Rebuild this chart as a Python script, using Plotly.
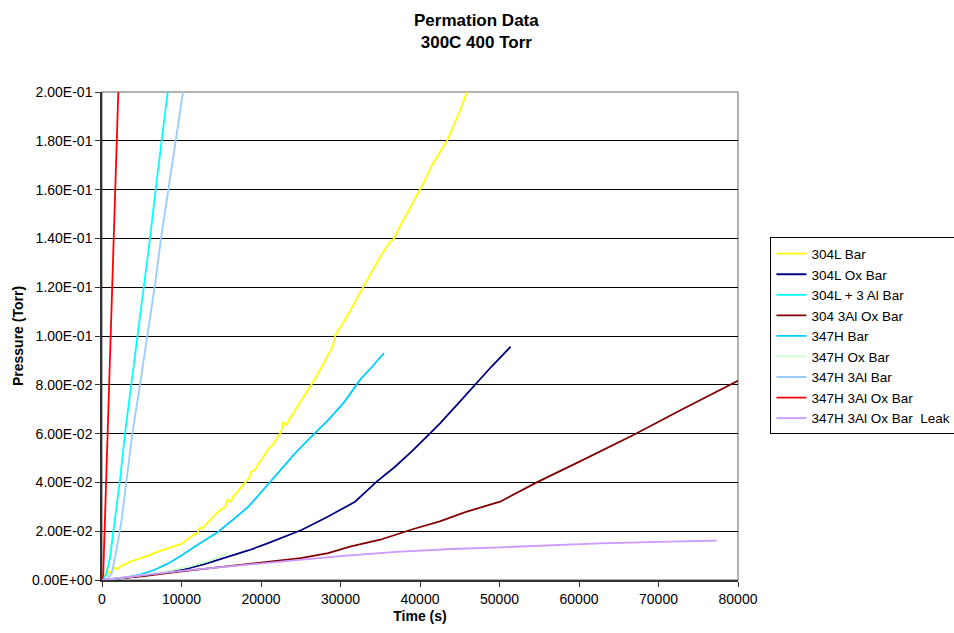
import plotly.graph_objects as go

# ---- data ----
t_304L = [0, 300, 600, 900, 1250, 1600, 2000, 2500, 3000, 3500, 4000, 4500, 5000, 5500, 6000, 6500,
          7000, 7500, 8000, 8500, 9000, 9500, 10000, 10500, 11000, 11500, 12000, 12300, 12600, 13000,
          13500, 14000, 14500, 15000, 15500, 15800, 16200, 16500, 17000, 17500, 18000, 18500, 18800,
          19200, 19600, 20000, 20500, 21000, 21500, 22000, 22500, 22800, 23200, 23600, 24000, 25000,
          26000, 27000, 28000, 29000, 29300, 30000, 31000, 32000, 33000, 34000, 35000, 36000, 36730,
          37500, 38500, 39500, 40500, 41500, 42500, 43400, 44000, 45000, 45900]
p_304L = [0.0005, 0.001, 0.004, 0.003, 0.0033, 0.005, 0.0045, 0.006, 0.0065, 0.0075, 0.008, 0.0085,
          0.0092, 0.0098, 0.0102, 0.011, 0.0115, 0.0123, 0.0128, 0.0133, 0.0135, 0.0143, 0.0148, 0.016,
          0.0172, 0.0185, 0.019, 0.0215, 0.021, 0.0225, 0.024, 0.026, 0.0275, 0.029, 0.0298, 0.033, 0.032,
          0.034, 0.036, 0.038, 0.040, 0.0418, 0.0445, 0.045, 0.047, 0.049, 0.0515, 0.054, 0.0555, 0.058,
          0.0605, 0.0645, 0.0635, 0.066, 0.068, 0.073, 0.078, 0.0835, 0.0895, 0.0955, 0.100, 0.1035,
          0.109, 0.115, 0.121, 0.127, 0.1325, 0.1375, 0.140, 0.145, 0.151, 0.157, 0.163, 0.170, 0.175,
          0.180, 0.1845, 0.192, 0.200]

t_304L_ox = [0, 2000, 4150, 7000, 10000, 13000, 15900, 18500, 20900, 23000, 25100, 28450, 31830,
             33200, 34550, 36860, 39000, 41260, 42520, 44700, 46930, 49000, 51400]
p_304L_ox = [0, 0.0006, 0.0014, 0.0026, 0.0041, 0.0066, 0.0096, 0.0122, 0.0151, 0.0178, 0.0205,
             0.026, 0.0321, 0.0362, 0.0403, 0.0464, 0.0528, 0.0601, 0.0642, 0.072, 0.080, 0.0875, 0.0956]

t_304L_3al = [0, 500, 1000, 1600, 2300, 2890, 3690, 4490, 5320, 6040, 6750, 7510, 8260]
p_304L_3al = [0, 0.002, 0.009, 0.024, 0.042, 0.060, 0.080, 0.100, 0.123, 0.140, 0.160, 0.180, 0.200]

t_304_3al_ox = [0, 5000, 10000, 15000, 20000, 25000, 28450, 31200, 35000, 39160, 42500, 45870,
                50070, 54680, 60000, 66840, 73000, 79840, 80500]
p_304_3al_ox = [0, 0.0015, 0.0035, 0.0053, 0.0072, 0.009, 0.011, 0.0137, 0.0165, 0.0209, 0.024,
                0.028, 0.0321, 0.040, 0.0484, 0.0594, 0.070, 0.0813, 0.0825]

t_347H = [0, 2000, 4570, 6500, 8340, 10000, 11700, 13200, 14630, 16500, 18400, 19900, 21350, 22800,
          24280, 25650, 27000, 28470, 30500, 32450, 34000, 35470]
p_347H = [0, 0.0006, 0.002, 0.004, 0.0068, 0.010, 0.0137, 0.0167, 0.0198, 0.0248, 0.030, 0.0355,
          0.041, 0.0465, 0.0519, 0.0565, 0.0608, 0.0656, 0.073, 0.082, 0.0875, 0.093]

t_347H_ox = [0, 4000, 8000, 11000, 13500, 15890]
p_347H_ox = [0, 0.0015, 0.0035, 0.0055, 0.0078, 0.0112]

t_347H_3al = [0, 700, 1220, 1800, 2470, 3100, 3810, 4780, 5700, 6750, 7420, 8340, 9270, 10190]
p_347H_3al = [0, 0.0005, 0.0027, 0.012, 0.0246, 0.042, 0.060, 0.080, 0.100, 0.123, 0.140, 0.160,
              0.180, 0.200]

t_347H_3al_ox = [0, 150, 400, 715, 920, 1130, 1340, 2050]
p_347H_3al_ox = [0, 0.002, 0.028, 0.060, 0.080, 0.100, 0.123, 0.200]

t_leak = [0, 5000, 10000, 15000, 20090, 24900, 30000, 37000, 44000, 50070, 56000, 62640, 70000, 77320]
p_leak = [0, 0.0019, 0.0037, 0.0053, 0.0068, 0.0085, 0.0098, 0.0115, 0.0127, 0.0134, 0.0142, 0.015,
          0.0156, 0.0161]

y_tickvals = [0.00, 0.02, 0.04, 0.06, 0.08, 0.10, 0.12, 0.14, 0.16, 0.18, 0.20]
y_ticktext = ["0.00E+00", "2.00E-02", "4.00E-02", "6.00E-02", "8.00E-02", "1.00E-01",
              "1.20E-01", "1.40E-01", "1.60E-01", "1.80E-01", "2.00E-01"]
x_tickvals = [0, 10000, 20000, 30000, 40000, 50000, 60000, 70000, 80000]

series = [
    ("304L Bar", t_304L, p_304L, "#FFFF00"),
    ("304L Ox Bar", t_304L_ox, p_304L_ox, "#000080"),
    ("304L + 3 Al Bar", t_304L_3al, p_304L_3al, "#00FFFF"),
    ("304 3Al Ox Bar", t_304_3al_ox, p_304_3al_ox, "#800000"),
    ("347H Bar", t_347H, p_347H, "#00CCFF"),
    ("347H Ox Bar", t_347H_ox, p_347H_ox, "#CCFFCC"),
    ("347H 3Al Bar", t_347H_3al, p_347H_3al, "#99CCFF"),
    ("347H 3Al Ox Bar", t_347H_3al_ox, p_347H_3al_ox, "#FF0000"),
    ("347H 3Al Ox Bar  Leak", t_leak, p_leak, "#CC99FF"),
]

FONT = "Liberation Sans, Arial, sans-serif"

fig = go.Figure()
for i, (name, x, y, c) in enumerate(series):
    fig.add_trace(go.Scatter(x=x, y=y, mode="lines", name=name, legendgroup=f"g{i}",
                             line=dict(color=c, width=1.8)))

fig.update_layout(
    width=954, height=633,
    margin=dict(l=102, r=216, t=92, b=53, autoexpand=False),
    paper_bgcolor="white", plot_bgcolor="white",
    font=dict(family=FONT, size=14, color="black"),
    showlegend=True,
    legend=dict(x=1.051, xanchor="left", y=0.702, yanchor="top",
                bordercolor="black", borderwidth=1, bgcolor="white",
                font=dict(family=FONT, size=13.5), tracegroupgap=0, itemwidth=30),
    xaxis=dict(range=[0, 80000], tickvals=x_tickvals, tickformat="d",
               showgrid=False, zeroline=False, showline=True, linecolor="#333333", linewidth=1.5,
               ticks="outside", ticklen=5, tickcolor="#333333",
               title=dict(text="<b>Time (s)</b>", font=dict(size=14), standoff=6),
               tickfont=dict(size=14)),
    yaxis=dict(range=[0, 0.2], tickvals=y_tickvals, ticktext=y_ticktext,
               showgrid=True, gridcolor="black", gridwidth=1, zeroline=False,
               showline=True, linecolor="#333333", linewidth=1.5,
               ticks="outside", ticklen=5, tickcolor="#333333",
               title=dict(text="<b>Pressure (Torr)</b>", font=dict(size=14), standoff=5),
               tickfont=dict(size=14)),
    shapes=[dict(type="rect", xref="paper", yref="paper", x0=0, y0=0, x1=1, y1=1,
                 line=dict(color="#999999", width=1.5), layer="below")],
    annotations=[dict(text="<b>Permation Data<br>300C 400 Torr</b>", xref="paper", yref="paper",
                      x=0.589, y=1.125, xanchor="center", yanchor="middle", showarrow=False,
                      font=dict(family=FONT, size=17, color="black"))],
)

fig.write_html("out.html")
